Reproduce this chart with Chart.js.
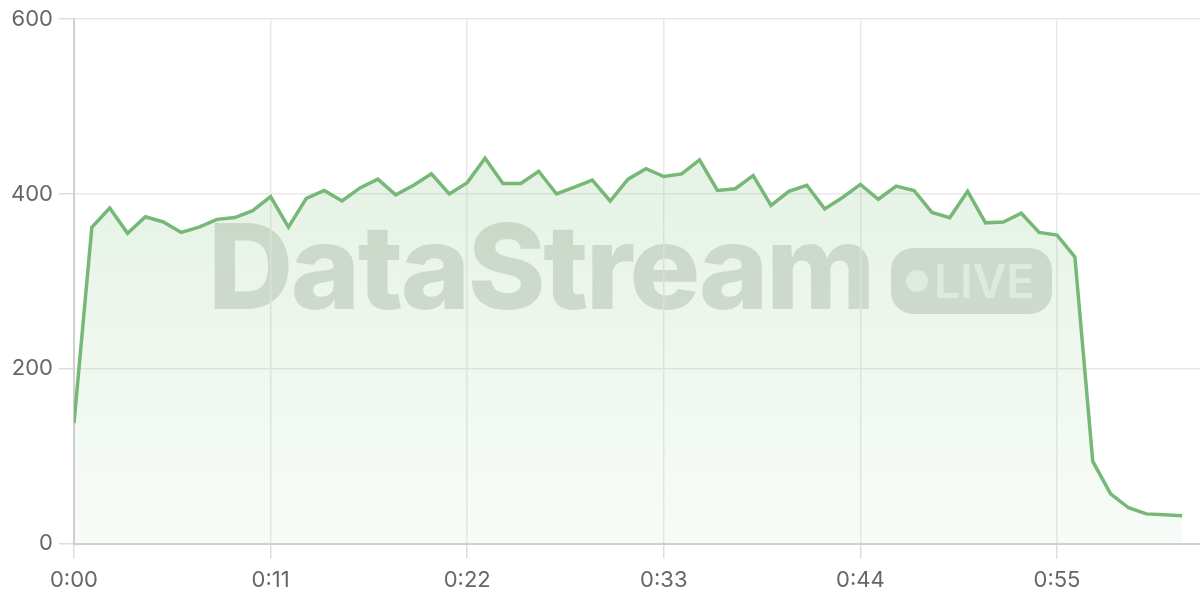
<!DOCTYPE html>
<html>
<head>
<meta charset="utf-8">
<script src="https://cdn.jsdelivr.net/npm/chart.js@4/dist/chart.umd.min.js"></script>
<style>
  html, body { margin: 0; padding: 0; background: #fff; }
  .wrap { position: relative; width: 1200px; height: 600px; }
  #myChart { position: relative; z-index: 1; }
  .name {
    position: absolute; left: 208px; top: 196px; line-height: 140px; z-index: 0;
    font-family: Inter, "DejaVu Sans", sans-serif;
    font-size: 118px; font-weight: 800; letter-spacing: -2.5px;
    color: rgba(70, 85, 70, 0.19);
  }
  .live {
    position: absolute; left: 891px; top: 248px; width: 161px; height: 66px; z-index: 0;
    border-radius: 22px; background: rgba(70, 85, 70, 0.19);
    display: flex; align-items: center; box-sizing: border-box; padding-left: 15px;
    font-family: Inter, "DejaVu Sans", sans-serif;
    font-size: 46px; font-weight: 600; color: rgba(255, 255, 255, 0.6);
  }
  .live .dot {
    width: 22px; height: 22px; border-radius: 50%;
    background: rgba(255, 255, 255, 0.6); margin-right: 6px;
  }
</style>
</head>
<body>
<div class="wrap">
  <div class="name">DataStream</div>
  <div class="live"><span class="dot"></span>LIVE</div>
  <canvas id="myChart" width="1200" height="600"></canvas>
</div>
<script>
// seconds since start
const seconds = [
  0, 1, 2, 3, 4, 5, 6, 7, 8, 9, 10, 11, 12, 13, 14, 15, 16, 17, 18, 19, 20,
  21, 22, 23, 24, 25, 26, 27, 28, 29, 30, 31, 32, 33, 34, 35, 36, 37, 38, 39, 40,
  41, 42, 43, 44, 45, 46, 47, 48, 49, 50, 51, 52, 53, 54, 55, 56, 57, 58, 59, 60,
  61, 62
];
const viewers = [
  138, 362, 384, 355, 374, 368, 356, 362, 371, 373, 381, 397, 362, 395, 404, 392, 407, 417, 399, 410, 423,
  400, 413, 441, 412, 412, 426, 400, 408, 416, 392, 417, 429, 420, 423, 439, 404, 406, 421, 387, 403,
  410, 383, 396, 411, 394, 409, 404, 379, 373, 403, 367, 368, 378, 356, 353, 328, 94, 57, 41, 34,
  33, 32
];
const xTicks = [0, 11, 22, 33, 44, 55];
const yTicks = [0, 200, 400, 600];

const fmtTime = (s) => Math.floor(s / 60) + ":" + String(s % 60).padStart(2, "0");
const tickFont = { family: "Inter, 'DejaVu Sans', sans-serif", size: 22 };

const ctx = document.getElementById("myChart").getContext("2d");
const grad = ctx.createLinearGradient(0, 19, 0, 543);
grad.addColorStop(0, "rgba(118, 186, 118, 0.24)");
grad.addColorStop(1, "rgba(118, 186, 118, 0.05)");

new Chart(ctx, {
  type: "line",
  data: {
    datasets: [
      {
        label: "Viewers",
        data: seconds.map((s, i) => ({ x: s, y: viewers[i] })),
        borderColor: "#76b876",
        borderWidth: 3.5,
        backgroundColor: grad,
        fill: true,
        tension: 0,
        pointRadius: 0
      }
    ]
  },
  options: {
    responsive: false,
    animation: false,
    layout: { padding: { left: 5, right: 0, top: 0, bottom: -3 } },
    plugins: { legend: { display: false }, tooltip: { enabled: false } },
    scales: {
      x: {
        type: "linear",
        min: 0,
        max: 63,
        afterBuildTicks: (axis) => { axis.ticks = xTicks.map((v) => ({ value: v })); },
        grid: { color: "#e9e9e9", tickColor: "#dedede", lineWidth: 1.5, tickLength: 15 },
        border: { color: "#d0d0d0", width: 2 },
        ticks: { padding: 9, color: "#666", font: tickFont, callback: (v) => fmtTime(v) }
      },
      y: {
        min: 0,
        max: 600,
        afterBuildTicks: (axis) => { axis.ticks = yTicks.map((v) => ({ value: v })); },
        grid: { color: "#e9e9e9", tickColor: "#dedede", lineWidth: 1.5, tickLength: 15 },
        border: { color: "#d0d0d0", width: 2 },
        ticks: { padding: 6, color: "#666", font: tickFont }
      }
    }
  }
});
</script>
</body>
</html>
